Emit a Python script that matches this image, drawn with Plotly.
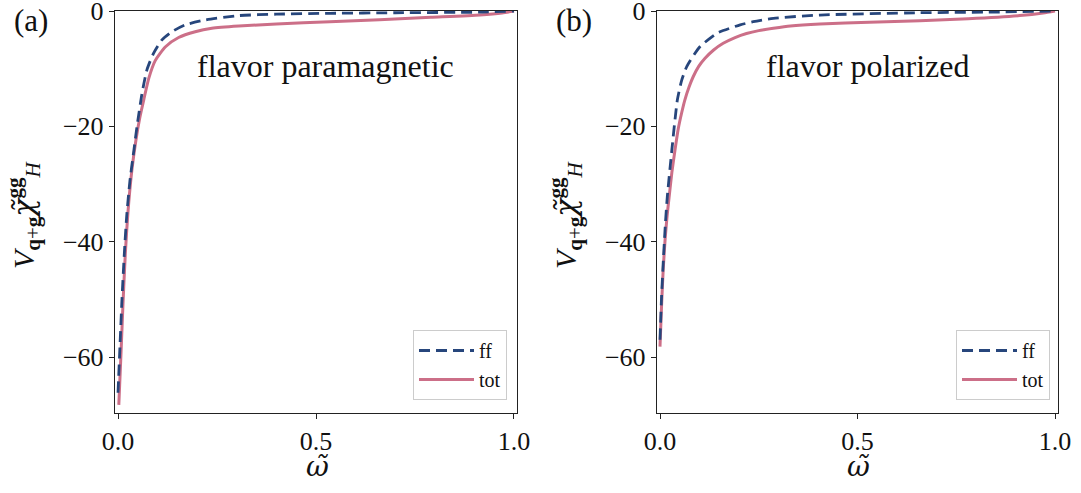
import plotly.graph_objects as go

# ---- data ----
# panel (a): flavor paramagnetic
w_a_ff = [0.0, 0.005, 0.01, 0.016, 0.022, 0.03, 0.04, 0.048, 0.0606, 0.073, 0.09, 0.111, 0.136, 0.17, 0.22, 0.305, 0.4, 0.535, 0.7, 0.91, 1.0]
v_a_ff = [-66.2, -58.0, -50.0, -42.0, -35.5, -29.5, -24.2, -20.0, -14.3, -10.2, -7.3, -5.0, -3.6, -2.4, -1.56, -0.8, -0.55, -0.4, -0.3, -0.2, 0.0]
w_a_tot = [0.002, 0.0076, 0.0126, 0.0185, 0.025, 0.035, 0.045, 0.055, 0.065, 0.078, 0.094, 0.12, 0.153, 0.195, 0.237, 0.305, 0.4, 0.535, 0.66, 0.79, 0.914, 0.97, 1.0]
v_a_tot = [-68.3, -59.3, -50.7, -42.0, -35.0, -27.6, -22.5, -18.5, -15.4, -11.6, -8.6, -6.2, -4.6, -3.6, -3.0, -2.6, -2.25, -1.85, -1.5, -1.1, -0.7, -0.35, 0.0]

# panel (b): flavor polarized
w_b_ff = [0.0, 0.004, 0.009, 0.014, 0.0185, 0.03, 0.044, 0.055, 0.068, 0.101, 0.143, 0.152, 0.203, 0.236, 0.287, 0.405, 0.658, 0.85, 1.0]
v_b_ff = [-57.0, -49.5, -42.5, -36.5, -32.2, -24.1, -15.4, -12.0, -9.6, -6.2, -3.9, -3.6, -2.4, -1.85, -1.27, -0.7, -0.3, -0.18, 0.0]
w_b_tot = [0.0, 0.004, 0.008, 0.013, 0.018, 0.023, 0.03, 0.038, 0.046, 0.055, 0.063, 0.074, 0.084, 0.098, 0.114, 0.135, 0.16, 0.19, 0.219, 0.25, 0.287, 0.33, 0.405, 0.53, 0.658, 0.78, 0.911, 0.97, 1.0]
v_b_tot = [-58.2, -51.0, -45.0, -39.5, -35.5, -32.3, -28.0, -24.1, -20.5, -17.6, -15.4, -13.1, -11.4, -9.6, -8.2, -6.8, -5.6, -4.6, -3.9, -3.4, -3.0, -2.6, -2.25, -1.95, -1.7, -1.35, -0.8, -0.35, 0.0]

series_names = ["ff", "tot"]
panel_labels = ["(a)", "(b)"]
panel_titles = ["flavor paramagnetic", "flavor polarized"]
x_ticks = [0.0, 0.5, 1.0]
x_ticklabels = ["0.0", "0.5", "1.0"]
y_ticks = [0, -20, -40, -60]
y_ticklabels = ["0", "−20", "−40", "−60"]

# ---- styling ----
W, H = 1081, 493
FONT = "Liberation Serif, Times New Roman, serif"
MATHFONT = "DejaVu Serif, serif"
C_FF = "#27467c"
C_TOT = "#cc6f88"

fig = go.Figure()

panels = [
    (w_a_ff, v_a_ff, w_a_tot, v_a_tot, "x", "y", "legend"),
    (w_b_ff, v_b_ff, w_b_tot, v_b_tot, "x2", "y2", "legend2"),
]
for wf, vf, wt, vt, xa, ya, lg in panels:
    fig.add_trace(go.Scatter(x=wt, y=vt, mode="lines", name=series_names[1],
                             line=dict(color=C_TOT, width=3, shape="spline", smoothing=0.6),
                             xaxis=xa, yaxis=ya, legend=lg, legendrank=2))
    fig.add_trace(go.Scatter(x=wf, y=vf, mode="lines", name=series_names[0],
                             line=dict(color=C_FF, width=2.8, dash="11px,6px", shape="spline", smoothing=0.6),
                             xaxis=xa, yaxis=ya, legend=lg, legendrank=1))

xdom = [[115 / W, 517 / W], [657 / W, 1058 / W]]
ydom = [1 - 413 / H, 1 - 11 / H]

axis_common = dict(showline=True, linecolor="#222", linewidth=1.4, mirror=True,
                   ticks="outside", ticklen=5, tickwidth=1.2, tickcolor="#222",
                   showgrid=False, zeroline=False, automargin=False,
                   ticklabeloverflow="allow",
                   tickfont=dict(family=FONT, size=26, color="#111"))

xr_ = [-0.0076, 1.0076]
yr_ = [-69.7, 0.0]
legend_common = dict(yanchor="bottom", xanchor="right", y=1 - 400 / H,
                     bordercolor="#cccccc", borderwidth=1, bgcolor="white",
                     itemwidth=55, tracegroupgap=0,
                     font=dict(family=FONT, size=20, color="#111"))
fig.update_layout(
    template="none",
    width=W, height=H,
    margin=dict(l=0, r=0, t=0, b=0, autoexpand=False),
    paper_bgcolor="white", plot_bgcolor="white",
    font=dict(family=FONT, color="#111"),
    xaxis=dict(domain=xdom[0], range=xr_, tickvals=x_ticks, ticktext=x_ticklabels, anchor="y", **axis_common),
    yaxis=dict(domain=ydom, range=yr_, tickvals=y_ticks, ticktext=y_ticklabels, anchor="x", **axis_common),
    xaxis2=dict(domain=xdom[1], range=xr_, tickvals=x_ticks, ticktext=x_ticklabels, anchor="y2", **axis_common),
    yaxis2=dict(domain=ydom, range=yr_, tickvals=y_ticks, ticktext=y_ticklabels, anchor="x2", **axis_common),
    legend=dict(x=507 / W, **legend_common),
    legend2=dict(x=1050 / W, **legend_common),
)

chi = "<span style='font-family:DejaVu Serif'><i>χ̃</i></span>"
ylabel = "<i>V</i><sub><b>q</b>+<b>g</b></sub>" + chi + "<sup><b>gg</b></sup><sub><i>H</i></sub>"
anns = []
for i, (yl_x, lab_x, xt_x) in enumerate([(23, 31, 317), (565, 574, 858)]):
    xr = "x" if i == 0 else "x2"
    yr = "y" if i == 0 else "y2"
    anns.append(dict(x=yl_x / W, y=1 - 215 / H, xref="paper", yref="paper", text=ylabel,
                     xanchor="center", yanchor="middle",
                     textangle=-90, showarrow=False, font=dict(family=FONT, size=30, color="#111")))
    anns.append(dict(x=lab_x / W, y=1 - 20 / H, xref="paper", yref="paper", text=panel_labels[i],
                     xanchor="center", yanchor="middle",
                     showarrow=False, font=dict(family=FONT, size=31, color="#111")))
    anns.append(dict(x=0.525, y=-9.6, xref=xr, yref=yr, text=panel_titles[i],
                     xanchor="center", yanchor="middle",
                     showarrow=False, font=dict(family=FONT, size=32, color="#111")))
    anns.append(dict(x=xt_x / W, y=1 - 466 / H, xref="paper", yref="paper",
                     xanchor="center", yanchor="middle",
                     text="<i>ω̃</i>", showarrow=False, font=dict(family=MATHFONT, size=28, color="#111")))
fig.update_layout(annotations=anns)

fig.write_html("out.html", config={"displayModeBar": False},
               post_script="document.body.style.margin='0px';")
